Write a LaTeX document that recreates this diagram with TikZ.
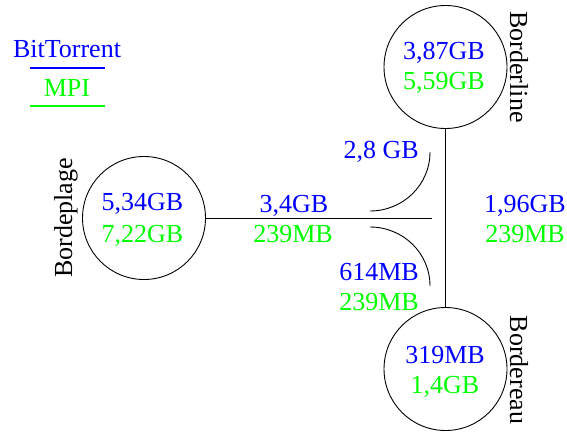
\documentclass[tikz,border=0pt]{standalone}
\usepackage{fontspec}
\setmainfont{Liberation Serif}
\begin{document}
\begin{tikzpicture}[x=1pt,y=-1pt,
  every node/.style={font=\fontsize{26}{30}\selectfont, inner sep=0pt},
  site/.style={draw, circle, line width=0.9pt, minimum size=123pt},
  link/.style={line width=0.9pt},
  bt/.style={text=blue, anchor=base},
  mpi/.style={text=green, anchor=base},
  sitename/.style={anchor=center}]
\useasboundingbox (0,0) rectangle (567,433);

% sites
\node[site] (line)  at (445.5,67)  {};
\node[site] (plage) at (144,218)   {};
\node[site] (eau)   at (445.5,369) {};

% volumes inside each site
\node[bt]  (lineB)  at (444,60)  {3,87GB};
\node[mpi] (lineM)  at (444,90)  {5,59GB};
\node[bt]  (plageB) at (142.5,210) {5,34GB};
\node[mpi] (plageM) at (142.5,242) {7,22GB};
\node[bt]  (eauB)   at (445,363) {319MB};
\node[mpi] (eauM)   at (445,393) {1,4GB};

% site names
\node[sitename, rotate=-90] (lineN)  at (519,67)  {Borderline};
\node[sitename, rotate=90]  (plageN) at (66,218)  {Bordeplage};
\node[sitename, rotate=-90] (eauN)   at (519,370) {Bordereau};

% legend
\node[bt]  (legB) at (67,58) {BitTorrent};
\node[mpi] (legM) at (67,97) {MPI};
\coordinate (legBl) at (30,68);  \coordinate (legBr) at (105,68);
\coordinate (legMl) at (30,106); \coordinate (legMr) at (105,106);
\draw[blue, line width=1.4pt] (legBl) -- (legBr);
\draw[green, line width=1.4pt] (legMl) -- (legMr);

% backbone links
\coordinate (hub) at (432,218);
\draw[link] (plage.east) -- (hub);
\draw[link] (line.south) -- (eau.north);

% turning flows
\coordinate (upA) at (370,211); \coordinate (upB) at (430,152);
\coordinate (dnA) at (370,227); \coordinate (dnB) at (430,286);
\draw[link] (upA) .. controls (403,211) and (430,185) .. (upB);
\draw[link] (dnA) .. controls (403,227) and (430,253) .. (dnB);

% link volumes
\node[bt]  (hB)  at (294,212) {3,4GB};
\node[mpi] (hM)  at (293,242) {239MB};
\node[bt]  (vB)  at (525,212) {1,96GB};
\node[mpi] (vM)  at (525,242) {239MB};
\node[text=blue, anchor=base east]  (uB) at (419,158) {2,8 GB};
\node[text=blue, anchor=base east]  (dB) at (419,280) {614MB};
\node[text=green, anchor=base east] (dM) at (419,310) {239MB};
\end{tikzpicture}
\end{document}
